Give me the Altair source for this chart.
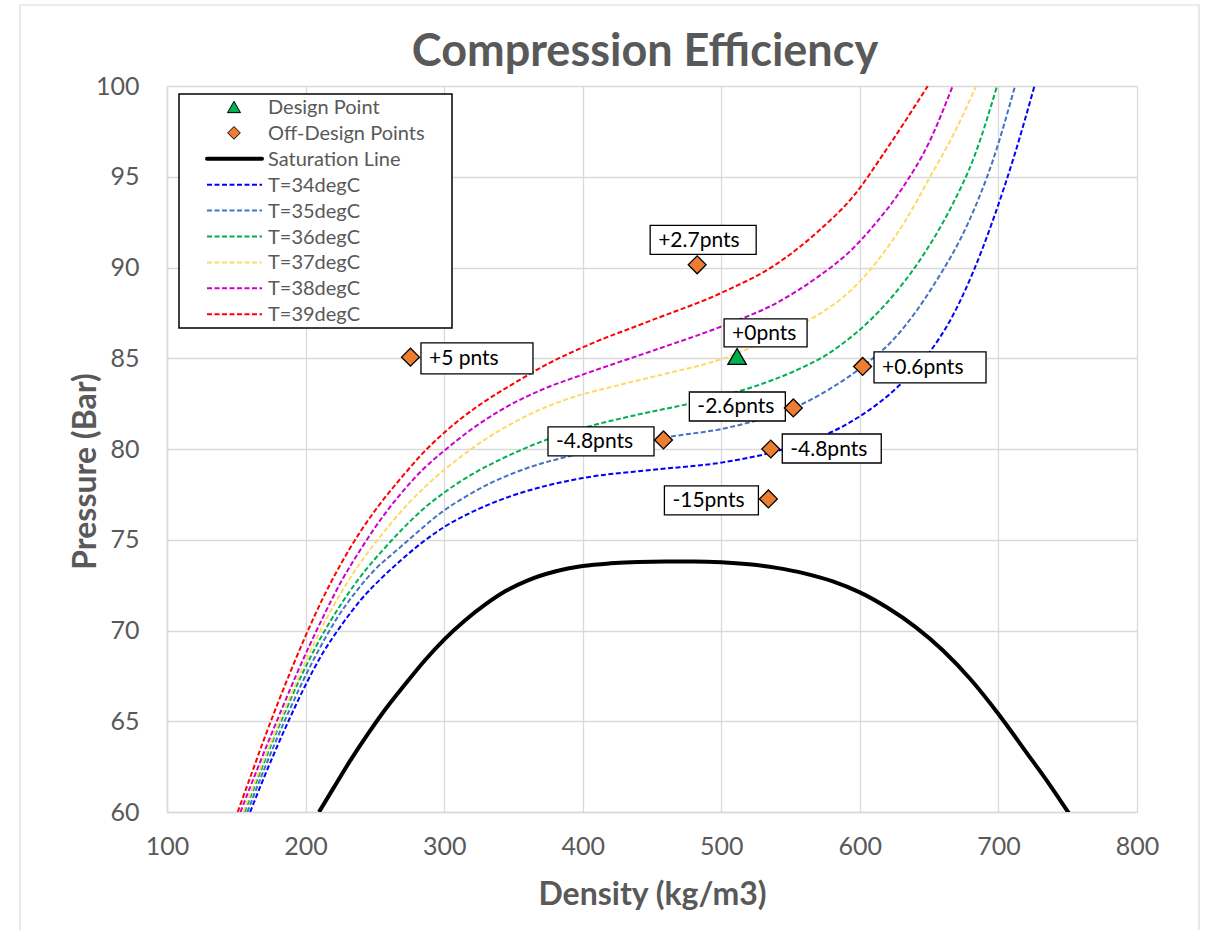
import altair as alt
import pandas as pd

FONT = "Lato"
GRAY = "#595959"

# ---------------- data ----------------
chart_title = "Compression Efficiency"
x_title = "Density (kg/m3)"
y_title = "Pressure (Bar)"

sat_x = [209.7, 220, 232, 245, 258, 272, 286, 300, 315, 330, 345, 360, 380, 400, 420, 440, 460, 480, 500, 520, 540, 560, 580, 600, 620, 640, 660, 680, 700, 720, 737, 752]
sat_y = [60, 61.3, 62.8, 64.3, 65.7, 67.05, 68.35, 69.5, 70.55, 71.45, 72.2, 72.75, 73.25, 73.55, 73.7, 73.78, 73.8, 73.8, 73.76, 73.65, 73.45, 73.15, 72.72, 72.1, 71.25, 70.2, 68.9, 67.3, 65.4, 63.3, 61.5, 59.8]

iso_names = ["T=34degC", "T=35degC", "T=36degC", "T=37degC", "T=38degC", "T=39degC"]
iso_colors = ["#0000FF", "#4472C4", "#00B050", "#FFD966", "#CC00CC", "#FF0000"]

t34_x = [160, 170, 180, 190, 200, 212, 225, 240, 255, 270, 285, 300, 325, 350, 375, 400, 450, 500, 536, 560, 580, 600, 627, 649, 666, 682, 696, 712, 726]
t34_y = [60, 61.9, 63.7, 65.4, 67.0, 68.7, 70.2, 71.7, 72.9, 73.95, 74.9, 75.7, 76.7, 77.45, 78.0, 78.4, 78.85, 79.25, 79.8, 80.35, 80.95, 81.8, 83.4, 85.2, 87.2, 89.8, 92.6, 96.3, 100]

t35_x = [158, 168, 178, 188, 198, 210, 222, 236, 250, 267, 282, 297, 315, 333, 360, 393, 430, 465, 500, 522, 552, 577, 602, 625, 653, 679, 696, 712]
t35_y = [60, 61.95, 63.8, 65.55, 67.2, 69.0, 70.6, 72.1, 73.35, 74.5, 75.5, 76.45, 77.35, 78.1, 78.95, 79.65, 80.2, 80.7, 81.1, 81.5, 82.25, 83.25, 84.55, 86.1, 89.0, 92.6, 95.9, 100]

t36_x = [156, 166, 176, 186, 196, 206, 217, 230, 243, 256, 270, 285, 300, 320, 340, 370, 400, 440, 480, 520, 553, 575, 595, 620, 645, 665, 683, 699]
t36_y = [60, 61.95, 63.85, 65.65, 67.35, 68.9, 70.4, 71.95, 73.3, 74.45, 75.6, 76.7, 77.6, 78.6, 79.4, 80.4, 81.15, 81.9, 82.55, 83.35, 84.3, 85.15, 86.25, 88.1, 90.6, 93.2, 96.2, 100]

t37_x = [155, 165, 175, 185, 195, 205, 213, 225, 237, 248, 260, 273, 286, 300, 316, 333, 350, 370, 395, 425, 460, 500, 539, 570, 593, 612, 633, 650, 668, 684]
t37_y = [60, 61.95, 63.85, 65.7, 67.45, 69.1, 70.35, 72.0, 73.45, 74.6, 75.75, 76.9, 77.9, 78.85, 79.8, 80.7, 81.45, 82.2, 82.9, 83.5, 84.15, 84.95, 86.2, 87.4, 88.7, 90.3, 92.6, 94.9, 97.4, 100]

t38_x = [153, 163, 173, 183, 193, 203, 213, 225, 240, 255, 270, 285, 300, 320, 340, 370, 400, 450, 500, 540, 570, 593, 611, 630, 650, 667]
t38_y = [60, 61.95, 63.85, 65.7, 67.5, 69.2, 70.8, 72.6, 74.5, 76.2, 77.65, 78.9, 79.9, 81.1, 82.1, 83.25, 84.1, 85.4, 86.75, 88.05, 89.5, 90.9, 92.4, 94.3, 96.9, 100]

t39_x = [151, 160, 170, 180, 190, 200, 212, 225, 240, 255, 270, 285, 300, 325, 350, 375, 400, 450, 500, 540, 570, 595, 620, 649]
t39_y = [60, 61.9, 64.0, 66.0, 67.9, 69.7, 71.7, 73.6, 75.5, 77.1, 78.5, 79.8, 80.9, 82.4, 83.6, 84.7, 85.6, 87.1, 88.6, 90.2, 92.0, 93.9, 96.6, 100]

iso_x = [t34_x, t35_x, t36_x, t37_x, t38_x, t39_x]
iso_y = [t34_y, t35_y, t36_y, t37_y, t38_y, t39_y]

design_x = [511.4]
design_y = [85.1]
design_labels = ["+0pnts"]

off_x = [482.6, 275.7, 602, 552, 458.3, 535.7, 534]
off_y = [90.15, 85.06, 84.55, 82.26, 80.5, 80.0, 77.25]
off_labels = ["+2.7pnts", "+5 pnts", "+0.6pnts", "-2.6pnts", "-4.8pnts", "-4.8pnts", "-15pnts"]

legend_labels = ["Design Point", "Off-Design Points", "Saturation Line"] + iso_names

# label box styling (pixel offset of box centre from point, box width, height)
design_box_style = [(28.5, -23.5, 83, 28)]
off_box_style = [(6, -25, 106, 29), (66.5, 1.3, 112, 31), (67.4, 1, 112, 31),
                 (-56, -1.5, 96, 29), (-62.5, 1.5, 106, 29), (61, -0.5, 99, 29), (-57, 1.5, 94, 29)]

# ---------------- tables ----------------
iso_rows = []
for name, xs, ys in zip(iso_names, iso_x, iso_y):
    for i, (xv, yv) in enumerate(zip(xs, ys)):
        iso_rows.append({"series": name, "x": xv, "y": yv, "i": i})
iso_df = pd.DataFrame(iso_rows)
sat_df = pd.DataFrame({"x": sat_x, "y": sat_y, "i": list(range(len(sat_x)))})
design_df = pd.DataFrame({"x": design_x, "y": design_y, "t": design_labels})
off_df = pd.DataFrame({"x": off_x, "y": off_y, "t": off_labels})

X = alt.X("x:Q", scale=alt.Scale(domain=[100, 800], nice=False, zero=False),
          axis=alt.Axis(values=list(range(100, 801, 100)), title=x_title,
                        ticks=False, tickSize=0, labelPadding=22, labelFlush=False, labelOverlap=False,
                        titleY=82, titleBaseline="middle"))
Y = alt.Y("y:Q", scale=alt.Scale(domain=[60, 100], nice=False, zero=False),
          axis=alt.Axis(values=list(range(60, 101, 5)), title=y_title,
                        ticks=False, tickSize=0, labelPadding=28, labelFlush=False, labelOverlap=False,
                        titleX=-82, titleY=385, titleAngle=270, titleBaseline="middle"))

layers = []
one = pd.DataFrame({"a": [0]})

# outer chart frame
layers.append(alt.Chart(one).mark_rect(fill="white", fillOpacity=0, stroke="#D9D9D9", strokeWidth=1.2).encode(
    x=alt.value(-147), x2=alt.value(1032), y=alt.value(-81), y2=alt.value(870)))

# chart title
layers.append(alt.Chart(one).mark_text(align="center", baseline="alphabetic", font=FONT, fontSize=45,
                                       fontWeight="bold", color=GRAY).encode(
    x=alt.value(478), y=alt.value(-20), text=alt.value(chart_title)))

# saturation line
layers.append(alt.Chart(sat_df).mark_line(color="black", strokeWidth=4, interpolate="monotone", clip=True).encode(
    x=X, y=Y, order="i:Q"))

# isotherms
layers.append(alt.Chart(iso_df).mark_line(strokeWidth=2, strokeDash=[5, 2.5], interpolate="monotone", clip=True).encode(
    x=X, y=Y, order="i:Q",
    color=alt.Color("series:N", scale=alt.Scale(domain=iso_names, range=iso_colors), legend=None)))

# label boxes and texts
def add_labels(xs, ys, labels, styles):
    for xv, yv, t, (dx, dy, w, h) in zip(xs, ys, labels, styles):
        d = pd.DataFrame({"x": [xv], "y": [yv], "t": [t]})
        layers.append(alt.Chart(d).mark_rect(
            fill="white", stroke="black", strokeWidth=1.3,
            xOffset=dx - w / 2, x2Offset=dx + w / 2, yOffset=dy - h / 2, y2Offset=dy + h / 2
        ).encode(x=X, x2="x:Q", y=Y, y2="y:Q"))
        layers.append(alt.Chart(d).mark_text(
            align="left", baseline="middle", dx=dx - w / 2 + 8, dy=dy + 1,
            font=FONT, fontSize=21, color="black"
        ).encode(x=X, y=Y, text="t:N"))

add_labels(design_x, design_y, design_labels, design_box_style)
add_labels(off_x, off_y, off_labels, off_box_style)

# points
layers.append(alt.Chart(off_df).mark_point(shape="diamond", filled=True, fill="#ED7D31", stroke="black",
                                           strokeWidth=1.3, size=320, opacity=1).encode(x=X, y=Y))
layers.append(alt.Chart(design_df).mark_point(shape="triangle-up", filled=True, fill="#00B050", stroke="black",
                                              strokeWidth=1.3, size=340, opacity=1).encode(x=X, y=Y))

# manual legend
layers.append(alt.Chart(one).mark_rect(fill="white", stroke="black", strokeWidth=1.5).encode(
    x=alt.value(12), x2=alt.value(285), y=alt.value(8), y2=alt.value(242)))
row0, step = 21, 25.9
for k, lab in enumerate(legend_labels):
    yy = row0 + k * step
    if k == 0:
        layers.append(alt.Chart(one).mark_point(shape="triangle-up", filled=True, fill="#00B050", stroke="black",
                                                strokeWidth=1, size=170, opacity=1).encode(
            x=alt.value(67), y=alt.value(yy)))
    elif k == 1:
        layers.append(alt.Chart(one).mark_point(shape="diamond", filled=True, fill="#ED7D31", stroke="black",
                                                strokeWidth=1, size=160, opacity=1).encode(
            x=alt.value(67), y=alt.value(yy)))
    elif k == 2:
        layers.append(alt.Chart(one).mark_rule(color="black", strokeWidth=4, strokeCap="round").encode(
            x=alt.value(40), x2=alt.value(95), y=alt.value(yy)))
    else:
        layers.append(alt.Chart(one).mark_rule(color=iso_colors[k - 3], strokeWidth=2, strokeDash=[5, 2.5]).encode(
            x=alt.value(40), x2=alt.value(95), y=alt.value(yy)))
    layers.append(alt.Chart(one).mark_text(align="left", baseline="middle", font=FONT, fontSize=20,
                                           color=GRAY).encode(
        x=alt.value(101), y=alt.value(yy + 1), text=alt.value(lab)))

chart = alt.layer(*layers).properties(
    width=970, height=726,
    padding={"left": 167, "top": 86, "right": 68, "bottom": 118},
    autosize=alt.AutoSizeParams(type="none"),
    background="white",
).configure_view(stroke="transparent").configure_axis(
    labelFont=FONT, labelFontSize=25, labelColor=GRAY,
    titleFont=FONT, titleFontSize=32, titleFontWeight="bold", titleColor=GRAY,
    gridColor="#D9D9D9", gridWidth=1.3, domainColor="#D9D9D9", domainWidth=1.5,
)

chart.save("out.html", embed_options={"renderer": "svg", "actions": False})
